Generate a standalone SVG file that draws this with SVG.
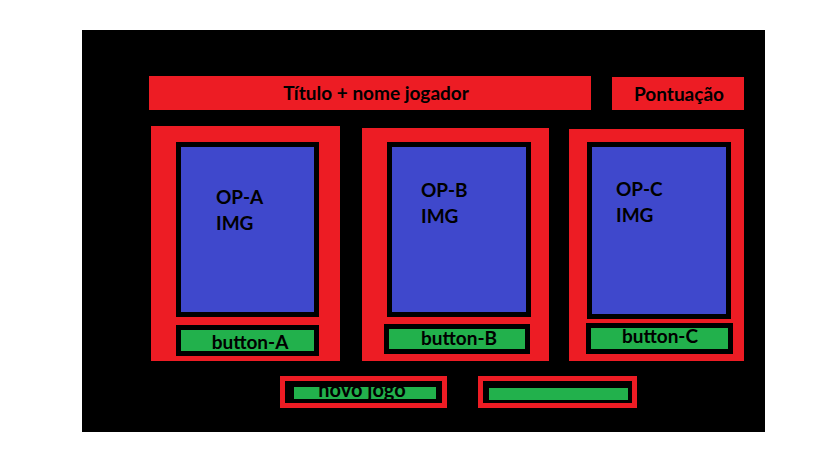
<svg xmlns="http://www.w3.org/2000/svg" width="819" height="460" viewBox="0 0 819 460">
<style>
.red{fill:#ed1c24}
.blk{fill:#000000}
.blue{fill:#3f48cc}
.grn{fill:#22b14c}
text{font-family:Lato,"Open Sans","Liberation Sans",sans-serif;font-weight:700;fill:#000000;font-size:19px}
.c{text-anchor:middle}
</style>
<rect x="0" y="0" width="819" height="460" fill="#ffffff"/>
<rect id="background" x="82" y="30" width="683" height="402" class="blk"/>
<g id="titulo">
<rect x="149" y="76" width="442" height="34" class="red"/>
<text x="376" y="100" class="c">Título + nome jogador</text>
</g>
<g id="pontuacao">
<rect x="612" y="77" width="132" height="33" class="red"/>
<text x="679" y="101" class="c">Pontuação</text>
</g>
<g id="card-a">
<rect x="151" y="126" width="189" height="235" class="red"/>
<rect x="176" y="142" width="143" height="175" class="blk"/>
<rect x="181" y="147" width="133" height="165" class="blue"/>
<text x="216" y="204">OP-A</text>
<text x="216" y="230">IMG</text>
<rect x="176" y="325" width="143" height="31" class="blk"/>
<rect x="181" y="330" width="133" height="21" class="grn"/>
<text x="250" y="349" class="c">button-A</text>
</g>
<g id="card-b">
<rect x="362" y="128" width="187" height="233" class="red"/>
<rect x="387" y="142" width="144" height="175" class="blk"/>
<rect x="392" y="147" width="134" height="165" class="blue"/>
<text x="421" y="197">OP-B</text>
<text x="421" y="223">IMG</text>
<rect x="384" y="324" width="146" height="30" class="blk"/>
<rect x="389" y="329" width="136" height="20" class="grn"/>
<text x="459" y="345" class="c">button-B</text>
</g>
<g id="card-c">
<rect x="569" y="129" width="175" height="232" class="red"/>
<rect x="587" y="142" width="144" height="177" class="blk"/>
<rect x="592" y="147" width="134" height="167" class="blue"/>
<text x="616" y="196">OP-C</text>
<text x="616" y="222">IMG</text>
<rect x="586" y="323" width="147" height="31" class="blk"/>
<rect x="591" y="328" width="137" height="21" class="grn"/>
<text x="660" y="343" class="c">button-C</text>
</g>
<g id="novo-jogo">
<rect x="280" y="376" width="167" height="32" class="red"/>
<rect x="285" y="381" width="157" height="22" class="blk"/>
<rect x="294" y="387" width="142" height="12" class="grn"/>
<text x="362" y="397" class="c" style="font-size:20px">novo jogo</text>
</g>
<g id="botao-vazio">
<rect x="478" y="376" width="159" height="32" class="red"/>
<rect x="483" y="381" width="149" height="22" class="blk"/>
<rect x="489" y="388" width="139" height="12" class="grn"/>
</g>
<g id="connectors"></g>
</svg>
